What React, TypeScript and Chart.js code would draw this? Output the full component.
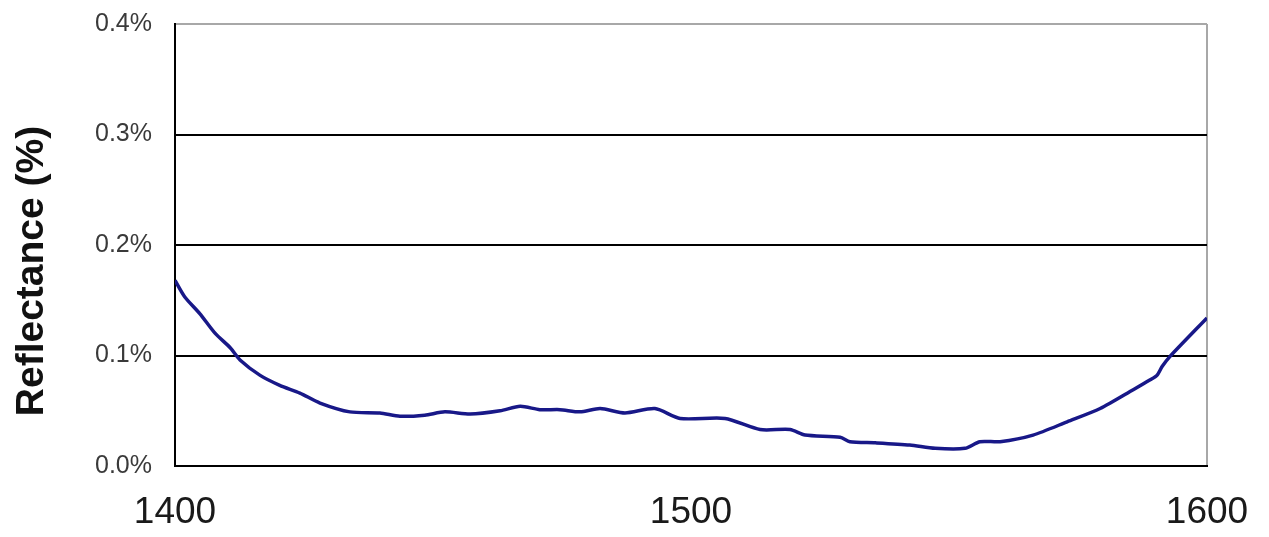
import React, { useEffect, useRef } from "react";
import { Chart, registerables } from "chart.js";

Chart.register(...registerables);

const wavelengths = [
  1400, 1401.9, 1404.8, 1407.8, 1410.7, 1412.6, 1416.5, 1420.3, 1424.2, 1428.1,
  1433.9, 1439.7, 1443.6, 1448.4, 1452.3, 1457.2, 1463.0, 1466.9, 1470.7, 1474.6,
  1478.5, 1482.4, 1487.2, 1493.0, 1497.9, 1506.6, 1513.4, 1519.2, 1522.1, 1528.9,
  1530.8, 1535.7, 1542.4, 1547.3, 1553.1, 1556.0, 1559.9, 1566.3, 1572.9, 1579.3,
  1585.7, 1589.0, 1590.3, 1591.3, 1592.8, 1600,
];
const reflectance = [
  0.168, 0.153, 0.138, 0.120, 0.107, 0.096, 0.082, 0.073, 0.066, 0.057,
  0.049, 0.048, 0.045, 0.046, 0.049, 0.047, 0.050, 0.054, 0.051, 0.051,
  0.049, 0.052, 0.048, 0.052, 0.043, 0.043, 0.033, 0.033, 0.028, 0.026,
  0.022, 0.021, 0.019, 0.016, 0.016, 0.022, 0.022, 0.028, 0.040, 0.052,
  0.069, 0.078, 0.082, 0.090, 0.099, 0.134,
];
const yTicks = [0, 0.1, 0.2, 0.3, 0.4];
const xTicks = [1400, 1500, 1600];
const yTitle = "Reflectance (%)";

export default function App() {
  const ref = useRef<HTMLCanvasElement | null>(null);
  useEffect(() => {
    if (!ref.current) return;
    const titlePlugin = {
      id: "ytitle",
      afterDraw(chart: any) {
        const ctx = chart.ctx;
        ctx.save();
        ctx.translate(43, 271);
        ctx.rotate(-Math.PI / 2);
        ctx.font = "bold 39px 'Liberation Sans', Arial, sans-serif";
        ctx.fillStyle = "#111";
        ctx.textAlign = "center";
        ctx.textBaseline = "alphabetic";
        ctx.fillText(yTitle, 0, 0);
        ctx.restore();
      },
    };
    const chart = new Chart(ref.current, {
      type: "line",
      data: {
        datasets: [
          {
            data: wavelengths.map((w, i) => ({ x: w, y: reflectance[i] })),
            borderColor: "#181888",
            borderWidth: 3.5,
            pointRadius: 0,
            tension: 0.25,
            fill: false,
          },
        ],
      },
      options: {
        animation: false,
        responsive: false,
        maintainAspectRatio: false,
        layout: { padding: { top: 24, right: 62, left: 0, bottom: 0 } },
        plugins: { legend: { display: false }, tooltip: { enabled: false } },
        scales: {
          x: {
            type: "linear",
            min: 1400,
            max: 1600,
            afterBuildTicks: (s: any) => {
              s.ticks = xTicks.map((v) => ({ value: v }));
            },
            afterFit: (s: any) => {
              s.height = 71;
              s.paddingLeft = 0;
              s.paddingRight = 0;
            },
            ticks: {
              padding: 25,
              color: "#1a1a1a",
              font: { family: "'Liberation Sans', Arial, sans-serif", size: 37 },
              maxRotation: 0,
              callback: (v: any) => String(v),
            },
            grid: {
              drawTicks: false,
              lineWidth: 2,
              color: (c: any) => (c.tick && c.tick.value === 1600 ? "#a8a8a8" : "rgba(0,0,0,0)"),
            },
            border: { color: "#000", width: 2 },
          },
          y: {
            min: 0,
            max: 0.4,
            afterBuildTicks: (s: any) => {
              s.ticks = yTicks.map((v) => ({ value: v }));
            },
            afterFit: (s: any) => {
              s.width = 175;
              s.paddingTop = 0;
              s.paddingBottom = 0;
            },
            ticks: {
              padding: 23,
              color: "#3a3a3a",
              font: { family: "'Liberation Sans', Arial, sans-serif", size: 25 },
              callback: (v: any) => Number(v).toFixed(1) + "%",
            },
            grid: {
              drawTicks: false,
              lineWidth: 2,
              color: (c: any) =>
                c.tick && Math.abs(c.tick.value - 0.4) < 1e-9 ? "#a8a8a8" : "#000",
            },
            border: { color: "#000", width: 2 },
          },
        },
      },
      plugins: [titlePlugin],
    });
    return () => chart.destroy();
  }, []);
  return (
    <div style={{ position: "fixed", left: 0, top: 0, width: 1269, height: 537, background: "#fff" }}>
      <canvas ref={ref} width={1269} height={537} style={{ width: 1269, height: 537 }} />
    </div>
  );
}
